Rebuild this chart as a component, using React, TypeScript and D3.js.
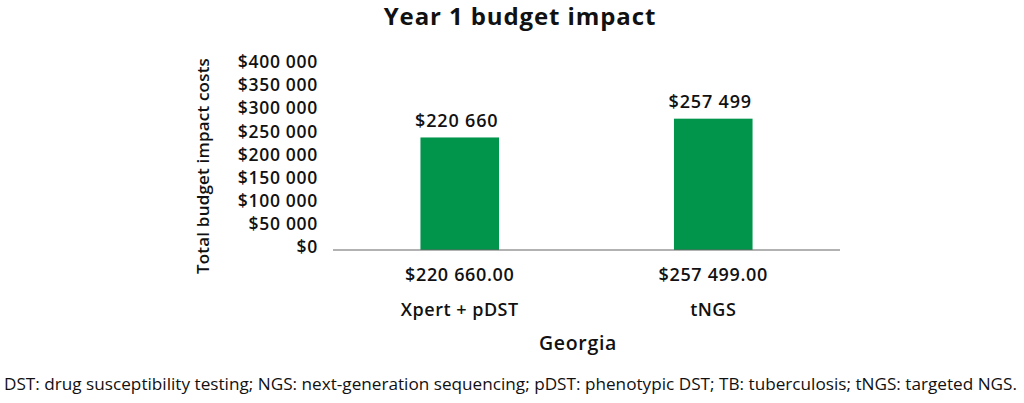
import React from "react";
import * as d3 from "d3";

const categories = ["Xpert + pDST", "tNGS"];
const values = [220660, 257499];
const barLabels = ["$220 660", "$257 499"];
const tableLabels = ["$220 660.00", "$257 499.00"];
const yTicks = [0, 50000, 100000, 150000, 200000, 250000, 300000, 350000, 400000];
const title = "Year 1 budget impact";
const yTitle = "Total budget impact costs";
const xTitle = "Georgia";
const footnote =
  "DST: drug susceptibility testing; NGS: next-generation sequencing; pDST: phenotypic DST; TB: tuberculosis; tNGS: targeted NGS.";

const W = 1024;
const H = 403;
const FONT = "'Open Sans', 'Noto Sans', sans-serif";
const GREEN = "#00954a";

const fmtTick = (v: number) => "$" + d3.format(",")(v).replace(/,/g, " ");

export default function App() {
  const x = d3.scaleBand<string>().domain(categories).range([333, 840]).paddingInner(0.69).paddingOuter(0.345);
  const y = d3.scaleLinear().domain([0, 400000]).range([250, 46]);
  const yLab = d3.scaleLinear().domain([0, 400000]).range([247, 62]);

  return (
    <svg width={W} height={H} style={{ position: "absolute", left: 0, top: 0, background: "#fff" }} fontFamily={FONT}>
      <rect x={0} y={0} width={W} height={H} fill="#fff" />
      <text x={520} y={25} textAnchor="middle" fontSize={24} fontWeight={700} letterSpacing={0.9} fill="#111">
        {title}
      </text>
      <text
        transform={`translate(209,166) rotate(-90)`}
        textAnchor="middle"
        fontSize={17}
        fontWeight={600}
        letterSpacing={0.2}
        fill="#111"
      >
        {yTitle}
      </text>
      {yTicks.map((t) => (
        <text
          key={t}
          x={318}
          y={yLab(t)}
          dy="0.35em"
          textAnchor="end"
          fontSize={17.5}
          fontWeight={600}
          letterSpacing={0.7}
          fill="#111"
        >
          {fmtTick(t)}
        </text>
      ))}
      {categories.map((c, i) => (
        <g key={c}>
          <rect x={x(c)} y={y(values[i])} width={x.bandwidth()} height={y(0) - y(values[i])} fill={GREEN} />
          <text
            x={(x(c) as number) + x.bandwidth() / 2 - 3}
            y={y(values[i]) - 17}
            dy="0.35em"
            textAnchor="middle"
            fontSize={18}
            fontWeight={600}
            letterSpacing={0.85}
            fill="#111"
          >
            {barLabels[i]}
          </text>
          <text
            x={(x(c) as number) + x.bandwidth() / 2}
            y={275}
            dy="0.35em"
            textAnchor="middle"
            fontSize={18}
            fontWeight={600}
            letterSpacing={0.65}
            fill="#111"
          >
            {tableLabels[i]}
          </text>
          <text
            x={(x(c) as number) + x.bandwidth() / 2}
            y={310}
            dy="0.35em"
            textAnchor="middle"
            fontSize={18}
            fontWeight={600}
            letterSpacing={0.5}
            fill="#111"
          >
            {c}
          </text>
        </g>
      ))}
      <line x1={333} x2={840} y1={y(0)} y2={y(0)} stroke="#666" strokeWidth={1.2} />
      <text x={578} y={343} dy="0.35em" textAnchor="middle" fontSize={19.5} fontWeight={600} letterSpacing={0.7} fill="#111">
        {xTitle}
      </text>
      <text x={4} y={385} dy="0.35em" fontSize={15.5} fill="#111" textLength={1013} lengthAdjust="spacingAndGlyphs">
        {footnote}
      </text>
    </svg>
  );
}
